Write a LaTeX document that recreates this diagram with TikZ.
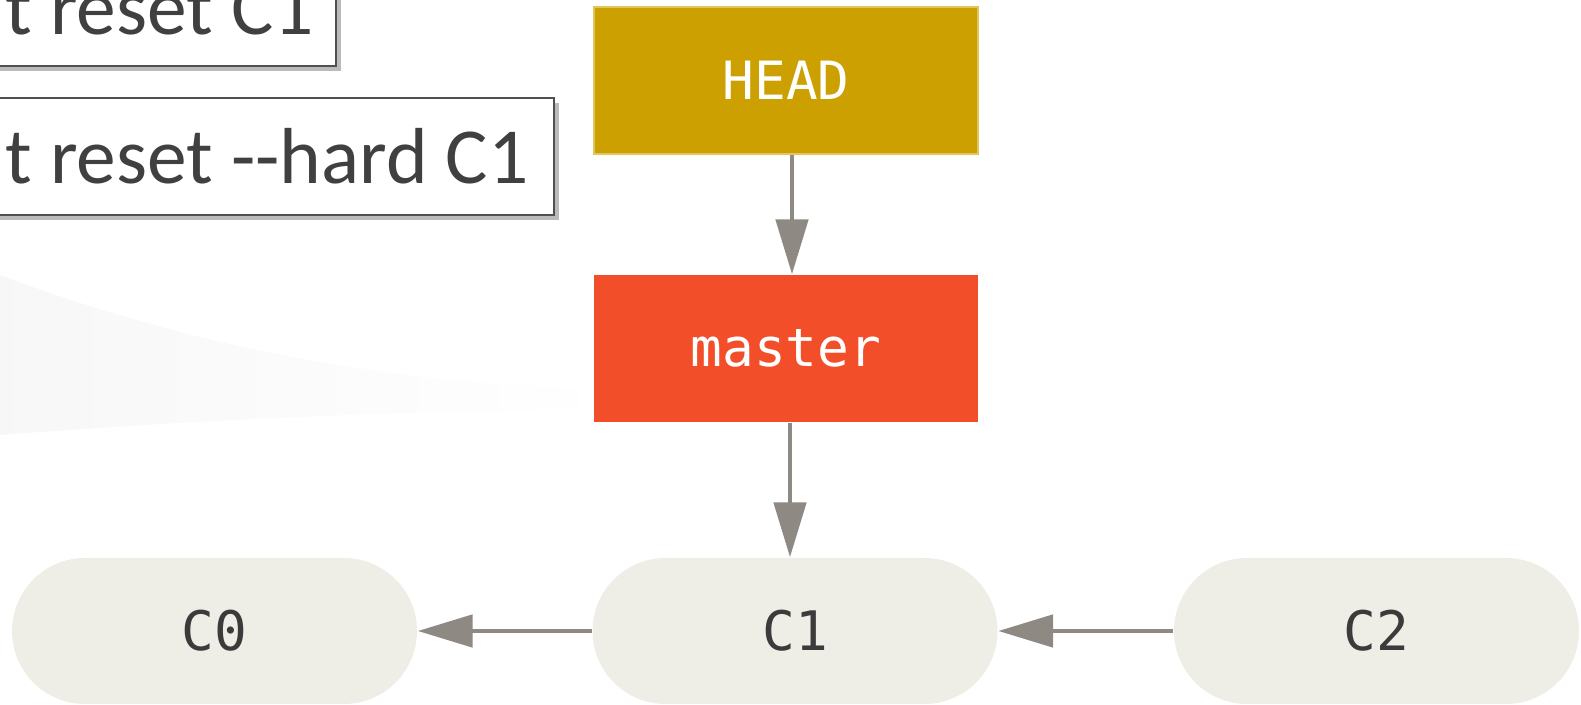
\documentclass[tikz,border=0pt]{standalone}
\usepackage{fontspec}
\setmainfont{Carlito}
\newfontfamily\monofuente{DejaVu Sans Mono}
\usetikzlibrary{arrows.meta,shadows}

\definecolor{cabeza}{HTML}{CCA000}
\definecolor{cabezaborde}{HTML}{E3C55E}
\definecolor{ramaroja}{HTML}{F24E2A}
\definecolor{fondocommit}{HTML}{EEEDE6}
\definecolor{flechagris}{HTML}{8E8983}
\definecolor{textogris}{HTML}{404040}
\definecolor{bordegris}{HTML}{505050}
\definecolor{textocommit}{HTML}{3B3B3B}

\begin{document}
\begin{tikzpicture}[
        caja/.style={draw=bordegris, line width=0.6pt, fill=white,
            drop shadow={shadow xshift=0.05cm, shadow yshift=-0.05cm, fill=black!45, opacity=0.6}},
        comando/.style={anchor=base west, inner sep=0pt, text=textogris,
            font=\fontsize{22.6}{27}\selectfont},
        rama/.style={minimum width=3.84cm, minimum height=1.47cm, text=white,
            font=\monofuente\fontsize{15}{18}\selectfont},
        confirmacion/.style={fill=fondocommit, rounded corners=0.73cm, minimum width=4.05cm,
            minimum height=1.46cm, text=textocommit, font=\monofuente\fontsize{15.5}{18}\selectfont},
        flecha/.style={draw=flechagris, line width=1.4pt, -{Triangle[length=0.55cm, width=0.32cm]}}
    ]
        \useasboundingbox (0,0) rectangle (15.81,-7.05);

        % Fondo de la diapositiva (curva tenue)
        \shade[left color=black!3, right color=white]
            (0,-2.75) .. controls (2,-3.5) and (4,-3.85) .. (6.2,-3.9)
            -- (6.2,-4.1) .. controls (4,-4.1) and (2,-4.2) .. (0,-4.35) -- cycle;

        % Comandos
        \path[caja] (-0.3,0.51) rectangle (3.36,-0.66);
        \path[caja] (-0.3,-0.98) rectangle (5.54,-2.15);
        \node[comando] (reset) at (0.05,-0.345) {t reset C1};
        \node[comando] (resethard) at (0.05,-1.835) {t reset -{}-hard C1};

        % Referencias
        \node[rama, fill=cabeza, draw=cabezaborde, line width=0.8pt] (head) at (7.86,-0.805) {HEAD};
        \node[rama, fill=ramaroja] (master) at (7.86,-3.485) {master};

        % Confirmaciones
        \node[confirmacion] (c0) at (2.145,-6.31) {C0};
        \node[confirmacion] (c1) at (7.95,-6.31) {C1};
        \node[confirmacion] (c2) at (13.765,-6.31) {C2};

        \draw[flecha] ([xshift=0.06cm]head.south) -- ([xshift=0.06cm]master.north);
        \draw[flecha] ([xshift=0.04cm]master.south) -- ([xshift=0.04cm]master.south |- c1.north);
        \draw[flecha] (c1) -- (c0);
        \draw[flecha] (c2) -- (c1);
    \end{tikzpicture}
\end{document}
